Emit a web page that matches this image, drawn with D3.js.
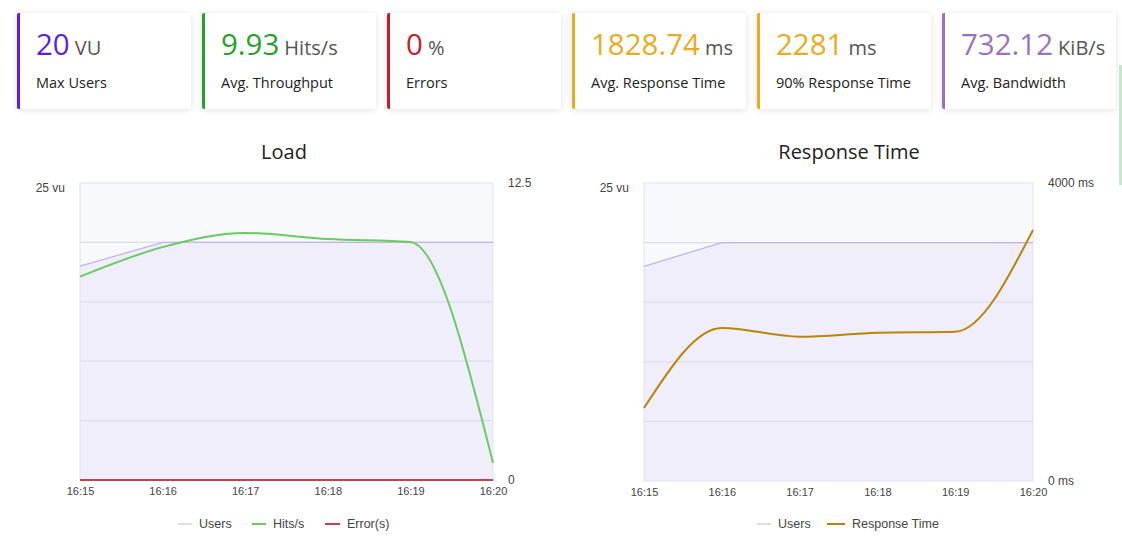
<!DOCTYPE html>
<html>
<head>
<meta charset="utf-8">
<script src="https://cdn.jsdelivr.net/npm/d3@7"></script>
<style>
  body { margin: 0; background: #fff; width: 1122px; height: 554px; overflow: hidden; position: relative; }
  .card { position: absolute; top: 13px; width: 171px; height: 96px; background: #fff;
          border-left: 3px solid; border-radius: 2px; box-shadow: 0 1px 6px rgba(0,0,0,0.12);
          font-family: "Open Sans", sans-serif; }
  .card .val { position: absolute; left: 16px; top: 11px; font-size: 29.5px; line-height: 40px; white-space: nowrap; }
  .card .unit { font-size: 20px; color: #555; margin-left: 5px; }
  .card .lbl { position: absolute; left: 16px; top: 60px; font-size: 14.5px; color: #222; white-space: nowrap; }
  svg { position: absolute; left: 0; top: 0; }
  .tick text { font-family: "Liberation Sans", Arial, sans-serif; font-size: 11px; fill: #444; }
  .yaxis .tick text { font-size: 12px; }
</style>
</head>
<body>
<script>
// summary cards
var cardValues = ['20', '9.93', '0', '1828.74', '2281', '732.12'];
var cardUnits = ['VU', 'Hits/s', '%', 'ms', 'ms', 'KiB/s'];
var cardLabels = ['Max Users', 'Avg. Throughput', 'Errors', 'Avg. Response Time', '90% Response Time', 'Avg. Bandwidth'];
var cardColors = ['#5a1fe6', '#27a02c', '#c81c2e', '#e9ab22', '#e9ab22', '#9a72be'];

// time series
var times = ['16:15', '16:16', '16:17', '16:18', '16:19', '16:20'];
var users = [18, 20, 20, 20, 20, 20];
var hits = [8.56, 9.8, 10.4, 10.14, 10.02, 0.72];
var errors = [0, 0, 0, 0, 0, 0];
var responseTime = [980, 2054, 1937, 1990, 2004, 3369];

var parseTime = d3.timeParse('%H:%M');
var dates = times.map(parseTime);

var body = d3.select('body');
var cards = body.selectAll('.card')
    .data(cardValues)
    .enter()
    .append('div')
    .attr('class', 'card')
    .style('left', function(d, i) { return (17 + i * 185) + 'px'; })
    .style('border-left-color', function(d, i) { return cardColors[i]; });

cards.append('div')
    .attr('class', 'val')
    .style('color', function(d, i) { return cardColors[i]; })
    .html(function(d, i) { return d + '<span class="unit">' + cardUnits[i] + '</span>'; });

cards.append('div')
    .attr('class', 'lbl')
    .text(function(d, i) { return cardLabels[i]; });

// partially visible card at right edge
body.append('div')
    .style('position', 'absolute')
    .style('left', '1119px').style('top', '65px')
    .style('width', '3px').style('height', '120px')
    .style('background', '#c8e8cd');

var svg = body.append('svg')
    .attr('width', 1122)
    .attr('height', 554);

function drawChart(cfg) {
    var g = svg.append('g');
    var x = d3.scaleTime().domain(d3.extent(dates)).range([cfg.left, cfg.right]);
    var yU = d3.scaleLinear().domain([0, 25]).range([cfg.bottom, cfg.top]);
    var yR = d3.scaleLinear().domain([0, cfg.rightMax]).range([cfg.bottom, cfg.top]);

    g.append('text')
        .attr('x', cfg.titleX)
        .attr('y', 159)
        .attr('text-anchor', 'middle')
        .style('font-family', '"Open Sans", sans-serif')
        .style('font-size', '20px')
        .style('fill', '#222')
        .text(cfg.title);

    g.append('rect')
        .attr('x', cfg.left).attr('y', cfg.top)
        .attr('width', cfg.right - cfg.left).attr('height', cfg.bottom - cfg.top)
        .attr('fill', '#f8f9fd');

    // users area
    var area = d3.area()
        .x(function(d, i) { return x(dates[i]); })
        .y0(cfg.bottom)
        .y1(function(d) { return yU(d); });
    g.append('path').datum(users).attr('d', area).attr('fill', '#efeefa');

    // grid
    g.selectAll('.grid')
        .data([5, 10, 15, 20])
        .enter().append('line')
        .attr('x1', cfg.left).attr('x2', cfg.right)
        .attr('y1', function(d) { return yU(d); })
        .attr('y2', function(d) { return yU(d); })
        .attr('stroke', '#dcdceb').attr('stroke-width', 1.2);

    g.append('rect')
        .attr('x', cfg.left).attr('y', cfg.top)
        .attr('width', cfg.right - cfg.left).attr('height', cfg.bottom - cfg.top)
        .attr('fill', 'none').attr('stroke', '#dfe4ef');

    var usersLine = d3.line()
        .x(function(d, i) { return x(dates[i]); })
        .y(function(d) { return yU(d); });
    g.append('path').datum(users).attr('d', usersLine)
        .attr('fill', 'none').attr('stroke', '#c1b1ec').attr('stroke-width', 1.2);

    cfg.series.forEach(function(s) {
        var line = d3.line()
            .curve(d3.curveMonotoneX)
            .x(function(d, i) { return x(dates[i]); })
            .y(function(d) { return yR(d); });
        g.append('path').datum(s.values).attr('d', line)
            .attr('fill', 'none').attr('stroke', s.color).attr('stroke-width', 2);
    });

    // axes
    g.append('g')
        .attr('transform', 'translate(0,' + cfg.bottom + ')')
        .call(d3.axisBottom(x).ticks(d3.timeMinute.every(1)).tickFormat(d3.timeFormat('%H:%M')).tickSize(0).tickPadding(7))
        .call(function(a) { a.select('.domain').remove(); });

    g.append('g')
        .attr('class', 'yaxis')
        .attr('transform', 'translate(' + cfg.left + ',0)')
        .call(d3.axisLeft(yU).tickValues([25]).tickFormat(function(d) { return d + ' vu'; }).tickSize(0).tickPadding(15))
        .call(function(a) { a.select('.domain').remove(); })
        .selectAll('text').attr('dy', '0.7em');

    g.append('g')
        .attr('class', 'yaxis')
        .attr('transform', 'translate(' + cfg.right + ',0)')
        .call(d3.axisRight(yR).tickValues([0, cfg.rightMax]).tickFormat(cfg.rightFormat).tickSize(0).tickPadding(15))
        .call(function(a) { a.select('.domain').remove(); });

    // legend
    var legend = g.selectAll('.legend')
        .data(cfg.legend)
        .enter().append('g')
        .attr('transform', function(d) { return 'translate(' + d.x + ',524)'; });
    legend.append('line')
        .attr('x1', 0).attr('x2', function(d) { return d.w; })
        .attr('stroke', function(d) { return d.color; })
        .attr('stroke-width', function(d) { return d.thin ? 1 : 2; });
    legend.append('text')
        .attr('x', function(d) { return d.w + 7; })
        .attr('dy', '0.35em')
        .style('font-family', '"Liberation Sans", Arial, sans-serif')
        .style('font-size', '12.5px')
        .style('fill', '#444')
        .text(function(d) { return d.name; });
}

drawChart({
    title: 'Load', titleX: 284, left: 80, right: 493, top: 183, bottom: 480,
    rightMax: 12.5, rightFormat: function(d) { return d; },
    series: [
        {values: errors, color: '#c8404e'},
        {values: hits, color: '#6acb63'}
    ],
    legend: [
        {name: 'Users', color: '#c1b1ec', x: 178, w: 14, thin: true},
        {name: 'Hits/s', color: '#6acb63', x: 252, w: 14},
        {name: 'Error(s)', color: '#c8404e', x: 325, w: 15}
    ]
});

drawChart({
    title: 'Response Time', titleX: 849, left: 644, right: 1033, top: 183, bottom: 481,
    rightMax: 4000, rightFormat: function(d) { return d + ' ms'; },
    series: [
        {values: responseTime, color: '#b8860b'}
    ],
    legend: [
        {name: 'Users', color: '#c1b1ec', x: 757, w: 14, thin: true},
        {name: 'Response Time', color: '#b8860b', x: 827, w: 18}
    ]
});
</script>
</body>
</html>
